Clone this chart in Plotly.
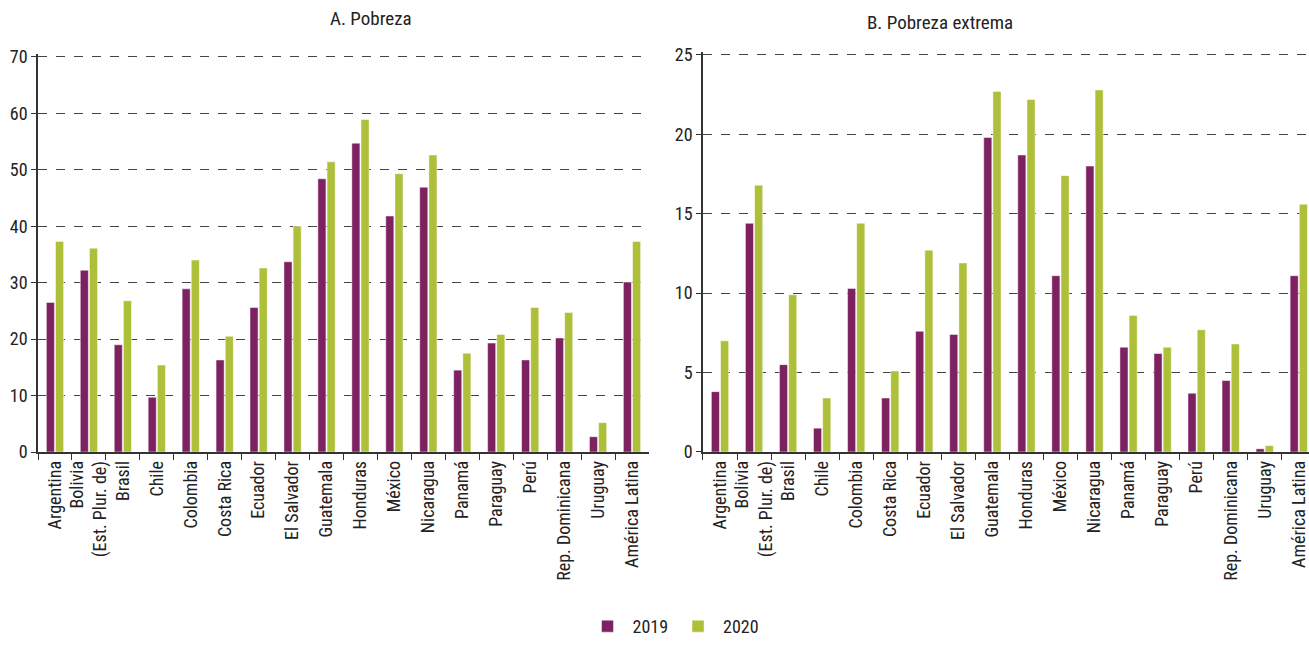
import plotly.graph_objects as go

categories = ["Argentina", "Bolivia<br>(Est. Plur. de)", "Brasil", "Chile", "Colombia",
              "Costa Rica", "Ecuador", "El Salvador", "Guatemala", "Honduras", "México",
              "Nicaragua", "Panamá", "Paraguay", "Perú", "Rep. Dominicana", "Uruguay",
              "América Latina"]

pobreza_2019 = [26.5, 32.2, 19.0, 9.7, 28.9, 16.3, 25.6, 33.7, 48.4, 54.7, 41.8,
                46.9, 14.5, 19.3, 16.3, 20.2, 2.7, 30.1]
pobreza_2020 = [37.3, 36.1, 26.8, 15.4, 34.0, 20.5, 32.6, 40.0, 51.4, 58.9, 49.3,
                52.6, 17.5, 20.8, 25.6, 24.7, 5.2, 37.3]

extrema_2019 = [3.8, 14.4, 5.5, 1.5, 10.3, 3.4, 7.6, 7.4, 19.8, 18.7, 11.1,
                18.0, 6.6, 6.2, 3.7, 4.5, 0.2, 11.1]
extrema_2020 = [7.0, 16.8, 9.9, 3.4, 14.4, 5.1, 12.7, 11.9, 22.7, 22.2, 17.4,
                22.8, 8.6, 6.6, 7.7, 6.8, 0.4, 15.6]

titles = ["A. Pobreza", "B. Pobreza extrema"]
years = ["2019", "2020"]
colors = ["#7D2160", "#AEBF3A"]

FONT = "Roboto Condensed, Liberation Sans Narrow, Roboto, sans-serif"

fig = go.Figure()
for i, (y19, y20) in enumerate([(pobreza_2019, pobreza_2020), (extrema_2019, extrema_2020)]):
    xa = "x" if i == 0 else "x2"
    ya = "y" if i == 0 else "y2"
    for yr, vals, col in zip(years, [y19, y20], colors):
        fig.add_trace(go.Bar(
            x=categories, y=vals, name=yr, xaxis=xa, yaxis=ya,
            marker=dict(color=col, line=dict(color="rgba(255,255,255,0.6)", width=0.8)),
            showlegend=(i == 0), legendgroup=yr, hoverinfo="x+y",
        ))

axis_common = dict(showline=True, linecolor="#333", linewidth=1.5, automargin=False,
                   tickfont=dict(size=18, color="#222", family=FONT))
xcommon = dict(type="category", tickangle=-90, ticks="outside", tickson="boundaries",
               ticklen=6, tickcolor="#333")
ycommon = dict(ticks="outside", ticklen=5, tickcolor="#333", showgrid=True,
               gridcolor="#444", griddash="dash", gridwidth=1, zeroline=False)

fig.update_layout(
    width=1309, height=645,
    margin=dict(l=38, r=0, t=50, b=187),
    paper_bgcolor="white", plot_bgcolor="white",
    font=dict(family=FONT, color="#222"),
    barmode="group", bargap=0.46, bargroupgap=0.12,
    xaxis=dict(domain=[0, 0.4807], range=[-0.5, 17.5], anchor="y", **xcommon, **axis_common),
    yaxis=dict(domain=[0, 0.990], range=[0, 70.5], tickvals=[0, 10, 20, 30, 40, 50, 60, 70],
               anchor="x", **ycommon, **axis_common),
    xaxis2=dict(domain=[0.5232, 1.0], range=[-0.5, 17.3], anchor="y2", **xcommon, **axis_common),
    yaxis2=dict(domain=[0, 0.9956], range=[0, 25.2], tickvals=[0, 5, 10, 15, 20, 25],
                anchor="x2", **ycommon, **axis_common),
    legend=dict(orientation="h", x=0.5, xanchor="center", y=-0.434, yanchor="middle",
                font=dict(size=18, family=FONT, color="#222"), itemwidth=40,
                traceorder="normal"),
    annotations=[
        dict(text=titles[0], x=0.228, y=1.078, xref="paper", yref="paper",
             yanchor="middle", showarrow=False,
             font=dict(size=19, family=FONT, color="#222")),
        dict(text=titles[1], x=0.769, y=1.069, xref="paper", yref="paper",
             yanchor="middle", showarrow=False,
             font=dict(size=19, family=FONT, color="#222")),
    ],
)

fig.write_html("out.html", config={"displayModeBar": False},
               post_script="document.body.style.margin='0';document.body.style.overflow='hidden';")
